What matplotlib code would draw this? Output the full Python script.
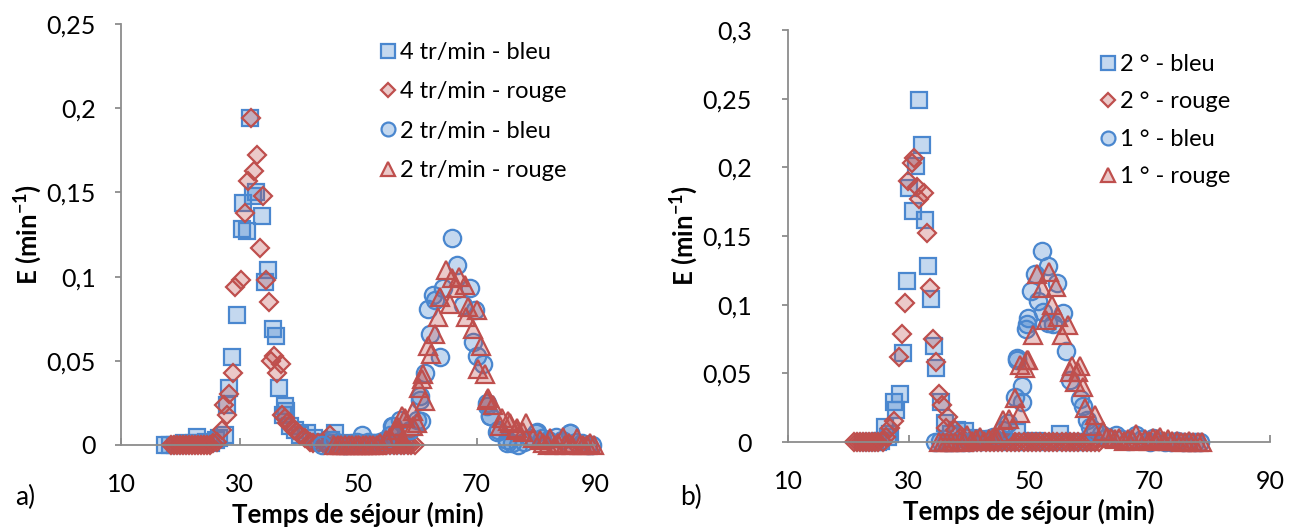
import matplotlib
matplotlib.use("Agg")
import matplotlib.pyplot as plt
from matplotlib.ticker import FuncFormatter

plt.rcParams['font.family'] = ['Lato', 'DejaVu Sans']
plt.rcParams['mathtext.fontset'] = 'custom'
plt.rcParams['mathtext.rm'] = 'Lato'
plt.rcParams['mathtext.bf'] = 'Lato:bold'

# ---------------- Panel a) ----------------
a_labels = ["4 tr/min - bleu", "4 tr/min - rouge", "2 tr/min - bleu", "2 tr/min - rouge"]

a_sq_x = [17.5, 18.3, 19.1, 19.9, 20.7, 21.5, 22.3, 22.8, 23.6, 24.4, 25.2, 26.0, 26.6, 27.5, 27.9, 28.2,
          28.7, 29.5, 30.4, 30.6, 31.2, 31.8, 32.3, 32.8, 33.8, 34.3, 34.8, 35.6, 36.1, 36.6, 37.3, 37.6,
          37.9, 38.5, 39.3, 40.2, 41.4, 42.5, 43.5, 44.5, 45.4, 46.1, 47.0, 48.0, 49.0, 50.0, 51.0, 52.0,
          53.0, 54.0, 55.0, 56.0, 57.0, 58.0]
a_sq_y = [0, 0, 0, 0, 0.001, 0, 0.001, 0.005, 0.001, 0.002, 0.001, 0.003, 0.004, 0.006, 0.024, 0.034,
          0.052, 0.077, 0.128, 0.144, 0.127, 0.194, 0.148, 0.150, 0.136, 0.097, 0.104, 0.069, 0.065, 0.034, 0.018, 0.023,
          0.020, 0.011, 0.009, 0.006, 0.007, 0.004, 0.002, 0.001, 0.003, 0.007, 0.001, 0, 0, 0, 0, 0.001,
          0, 0, 0, 0, 0, 0]

a_di_x = [18.5, 19.0, 19.5, 20.0, 20.5, 21.0, 21.5, 22.0, 22.5, 23.0, 23.5, 24.0, 24.5, 25.0, 25.5, 26.2,
          27.0, 27.4, 27.9, 28.2, 28.9, 29.3, 30.2, 30.9, 31.4, 31.9, 32.4, 32.9, 33.4, 33.9, 34.5, 35.0,
          35.4, 35.8, 36.3, 37.0, 37.2, 37.6, 38.0, 38.5, 39.2, 39.7, 40.2, 41.1, 41.9, 42.4, 43.2, 44.1,
          44.8, 45.3, 45.8, 46.4, 47.0, 47.6, 48.2, 48.8, 49.4, 50.0, 50.6, 51.2, 51.8, 52.4, 53.0, 53.6,
          54.2, 54.8, 55.4, 56.0, 56.6, 57.2, 57.8, 58.4, 59.0, 59.6]
a_di_y = [0, 0, 0, 0, 0, 0, 0, 0, 0, 0, 0, 0, 0, 0, 0.001, 0.002,
          0.009, 0.024, 0.018, 0.030, 0.043, 0.094, 0.098, 0.138, 0.157, 0.194, 0.163, 0.172, 0.117, 0.148, 0.098, 0.085,
          0.050, 0.053, 0.043, 0.048, 0.018, 0.016, 0.013, 0.012, 0.009, 0.008, 0.006, 0.004, 0.002, 0.001, 0.001, 0.001,
          0, 0.006, 0, 0, 0, 0, 0, 0, 0, 0, 0, 0, 0, 0, 0, 0,
          0, 0, 0, 0, 0, 0, 0, 0, 0, 0]

a_ci_x = [44.0, 45.8, 46.8, 47.8, 48.8, 49.8, 50.7, 51.7, 52.7, 53.7, 54.6, 55.4, 55.7, 55.9, 57.1, 58.8,
          60.0, 60.4, 60.5, 60.7, 61.3, 61.8, 62.1, 62.7, 63.0, 63.8, 64.4, 65.8, 66.7, 67.7, 68.9, 69.4,
          69.7, 70.0, 71.1, 71.7, 71.8, 72.2, 72.3, 73.4, 73.6, 75.1, 75.1, 76.0, 77.0, 78.0, 79.0, 80.1,
          80.2, 81.0, 82.0, 83.5, 84.5, 85.7, 85.8, 86.8, 87.8, 88.8, 89.5]
a_ci_y = [0, 0.003, 0.001, 0, 0.001, 0.002, 0.006, 0.002, 0.001, 0.002, 0.003, 0.006, 0.011, 0.011, 0.015, 0.009,
          0.015, 0.027, 0.029, 0.014, 0.043, 0.081, 0.066, 0.089, 0.086, 0.052, 0.093, 0.123, 0.107, 0.083, 0.093, 0.061,
          0.080, 0.053, 0.048, 0.023, 0.025, 0.017, 0.017, 0.008, 0.009, 0.003, 0.001, 0.001, 0, 0.002, 0.004, 0.007,
          0.008, 0.004, 0.003, 0.005, 0.003, 0.007, 0.007, 0.002, 0.001, 0, 0]

a_tr_x = [46.0, 46.6, 47.2, 47.8, 48.4, 49.0, 49.6, 50.2, 50.8, 51.4, 52.0, 52.6, 53.2, 53.7, 54.8, 55.4,
          56.5, 56.6, 57.3, 57.4, 57.6, 57.9, 59.3, 59.3, 59.9, 60.3, 60.8, 61.0, 61.3, 61.8, 62.4, 63.0,
          63.5, 63.8, 64.8, 65.5, 65.8, 66.6, 67.0, 68.0, 68.3, 68.6, 69.4, 70.0, 70.3, 70.8, 71.4, 71.7,
          71.9, 72.8, 73.9, 74.3, 75.3, 75.6, 76.7, 76.8, 77.8, 78.4, 79.5, 80.7, 81.3, 82.0, 82.4, 83.2,
          83.8, 84.6, 85.0, 85.6, 86.2, 86.9, 87.4, 88.0, 88.6, 89.2, 89.8]
a_tr_y = [0, 0, 0, 0, 0, 0, 0, 0, 0, 0, 0, 0, 0, 0.001, 0.003, 0.005,
          0.011, 0.009, 0.002, 0.017, 0.003, 0.016, 0.020, 0.011, 0.013, 0.034, 0.039, 0.042, 0.026, 0.059, 0.054, 0.066,
          0.076, 0.088, 0.104, 0.084, 0.099, 0.093, 0.100, 0.095, 0.076, 0.082, 0.069, 0.080, 0.045, 0.059, 0.042, 0.027,
          0.028, 0.024, 0.011, 0.016, 0.014, 0.013, 0.009, 0.010, 0.008, 0.013, 0.004, 0.003, 0.001, 0, 0.004, 0,
          0.001, 0.005, 0, 0.001, 0, 0.004, 0, 0, 0, 0.001, 0]

# ---------------- Panel b) ----------------
b_labels = ["2 ° - bleu", "2 ° - rouge", "1 ° - bleu", "1 ° - rouge"]

b_sq_x = [22.5, 23.0, 23.5, 24.0, 24.5, 25.0, 25.5, 26.1, 26.6, 27.0, 27.6, 28.0, 28.6, 29.1, 29.7, 30.1,
          30.7, 31.2, 31.7, 32.2, 32.7, 33.3, 33.7, 34.3, 34.6, 35.4, 36.1, 37.0, 38.0, 39.4, 40.5, 41.5,
          42.5, 43.5, 44.5, 45.5, 46.5, 47.5, 48.0, 49.0, 50.0, 51.0, 52.0, 53.0, 54.0, 55.1, 56.0, 57.0,
          58.0, 59.0, 60.0]
b_sq_y = [0, 0, 0, 0, 0, 0, 0.001, 0.011, 0.004, 0.006, 0.029, 0.023, 0.035, 0.065, 0.117, 0.185,
          0.168, 0.201, 0.249, 0.216, 0.162, 0.128, 0.104, 0.070, 0.054, 0.029, 0.014, 0.006, 0.009, 0.008, 0.003, 0.002,
          0.001, 0, 0, 0.001, 0, 0, 0.007, 0, 0, 0.001, 0, 0, 0, 0.006, 0, 0,
          0, 0, 0]

b_di_x = [21.0, 21.5, 22.0, 22.5, 23.0, 23.5, 24.0, 24.5, 25.0, 25.8, 26.3, 26.9, 27.6, 28.5, 29.0, 29.5,
          29.9, 30.5, 30.9, 31.4, 31.8, 32.5, 33.0, 33.6, 34.1, 34.6, 35.1, 35.5, 36.3, 36.6, 37.7, 38.5,
          39.3, 40.0, 40.7, 41.4, 42.1, 42.8, 43.5, 44.2, 44.9, 45.6, 46.3, 47.0, 47.7, 48.4, 49.1, 49.8,
          50.5, 51.2, 51.9, 52.6, 53.3, 54.0, 54.7, 55.4, 56.1, 56.8, 57.5, 58.2, 58.9, 59.6, 60.3, 61.0,
          61.7]
b_di_y = [0, 0, 0, 0, 0, 0, 0, 0, 0, 0, 0.004, 0.010, 0.015, 0.062, 0.079, 0.101,
          0.190, 0.203, 0.207, 0.186, 0.177, 0.181, 0.152, 0.112, 0.075, 0.058, 0.035, 0.027, 0.010, 0.018, 0.009, 0.003,
          0.001, 0, 0, 0, 0, 0, 0, 0, 0, 0, 0, 0, 0, 0, 0, 0,
          0, 0, 0, 0, 0, 0, 0, 0, 0, 0, 0, 0, 0, 0, 0, 0,
          0]

b_ci_x = [34.4, 35.3, 36.2, 37.1, 38.0, 39.0, 40.0, 41.0, 42.0, 43.0, 44.1, 45.7, 46.5, 47.7, 48.0, 48.0,
          48.8, 48.8, 49.5, 49.6, 49.9, 50.4, 51.0, 51.5, 52.1, 52.4, 53.1, 53.2, 54.0, 54.6, 55.7, 56.1,
          56.8, 58.5, 59.0, 59.6, 60.1, 61.0, 62.0, 63.0, 64.5, 65.5, 66.5, 67.8, 68.8, 70.0, 70.6, 71.5,
          72.5, 73.5, 74.5, 75.5, 76.5, 77.5, 78.4]
b_ci_y = [0, 0.001, 0, 0, 0, 0, 0, 0.001, 0.001, 0.002, 0.004, 0.009, 0.014, 0.033, 0.060, 0.061,
          0.041, 0.029, 0.082, 0.086, 0.090, 0.110, 0.122, 0.103, 0.139, 0.095, 0.128, 0.087, 0.086, 0.116, 0.094, 0.066,
          0.045, 0.031, 0.026, 0.016, 0.011, 0.007, 0.006, 0.004, 0.005, 0.002, 0.001, 0.005, 0.002, 0, 0.003, 0.001,
          0, 0, 0.001, 0, 0, 0, 0]

b_tr_x = [35.0, 35.7, 36.4, 37.1, 37.8, 38.5, 39.2, 39.7, 40.5, 41.2, 41.9, 42.6, 43.3, 44.0, 44.6, 45.2,
          45.7, 46.6, 47.7, 48.5, 48.5, 49.3, 49.7, 49.9, 50.6, 51.3, 52.1, 52.8, 53.4, 53.9, 54.5, 54.8,
          55.4, 56.4, 56.8, 57.1, 57.6, 58.2, 58.5, 59.0, 59.3, 60.4, 61.0, 62.3, 63.0, 63.6, 64.3, 65.0,
          65.7, 66.4, 67.1, 67.8, 68.5, 69.2, 69.9, 70.6, 71.3, 71.7, 72.4, 73.1, 73.8, 74.5, 75.2, 75.9,
          76.6, 77.3, 78.0, 78.7]
b_tr_y = [0, 0, 0, 0, 0, 0.001, 0, 0.005, 0.001, 0.002, 0.004, 0.001, 0.002, 0.003, 0.004, 0.006,
          0.016, 0.017, 0.032, 0.021, 0.056, 0.054, 0.060, 0.060, 0.078, 0.122, 0.112, 0.089, 0.124, 0.100, 0.113, 0.091,
          0.078, 0.085, 0.051, 0.055, 0.044, 0.051, 0.055, 0.040, 0.025, 0.012, 0.020, 0.008, 0.004, 0.003, 0.002, 0.003,
          0.001, 0.002, 0.002, 0.006, 0.001, 0.002, 0.001, 0.003, 0.002, 0.004, 0.001, 0.002, 0.001, 0.001, 0, 0,
          0.001, 0, 0, 0]

x_ticks = [10, 30, 50, 70, 90]
a_yticks = [0, 0.05, 0.1, 0.15, 0.2, 0.25]
b_yticks = [0, 0.05, 0.1, 0.15, 0.2, 0.25, 0.3]

BLUE = (0.29, 0.53, 0.81)
RED = (0.75, 0.31, 0.30)
BLUE_F = (0.29, 0.53, 0.81, 0.32)
RED_F = (0.75, 0.31, 0.30, 0.30)
AX_C = '#8c8c8c'

styles = [
    dict(marker='s', ms=12, mfc=BLUE_F, mec=BLUE),
    dict(marker='D', ms=9.5, mfc=RED_F, mec=RED),
    dict(marker='o', ms=12.5, mfc=BLUE_F, mec=BLUE),
    dict(marker='^', ms=13, mfc=RED_F, mec=RED),
]

fig = plt.figure(figsize=(12.93, 5.27), dpi=100)
W, H = 1293, 527


def make_ax(l, r, t, b):
    return fig.add_axes([l / W, (H - b) / H, (r - l) / W, (b - t) / H])


axA = make_ax(121, 595, 24, 445)
axB = make_ax(788, 1270, 30, 442)

fmt = FuncFormatter(lambda v, p: ('%g' % v).replace('.', ','))

TICK_FS = 18
LAB_FS = 18.5
LEG_FS = 17

panels = [
    (axA, [(a_sq_x, a_sq_y), (a_di_x, a_di_y), (a_ci_x, a_ci_y), (a_tr_x, a_tr_y)], a_labels, a_yticks,
     0.25, (366 / W, 1 - 30 / H), 14, 0.78),
    (axB, [(b_sq_x, b_sq_y), (b_di_x, b_di_y), (b_ci_x, b_ci_y), (b_tr_x, b_tr_y)], b_labels, b_yticks,
     0.3, (1086 / W, 1 - 42 / H), 22, 0.7),
]

for ax, series, labels, yticks, ymax, legpos, ypad, lspace in panels:
    for (xs, ys), st, lab in zip(series, styles, labels):
        ax.plot(xs, ys, linestyle='none', mew=1.6, clip_on=False, label=lab, **st)
    ax.set_xlim(10, 90)
    ax.set_ylim(0, ymax)
    ax.set_xticks(x_ticks)
    ax.set_yticks(yticks)
    ax.yaxis.set_major_formatter(fmt)
    for s in ['top', 'right']:
        ax.spines[s].set_visible(False)
    for s in ['left', 'bottom']:
        ax.spines[s].set_color(AX_C)
        ax.spines[s].set_linewidth(1.3)
    ax.tick_params(axis='x', direction='in', length=5, width=1.3, color=AX_C, pad=20, labelsize=TICK_FS)
    ax.tick_params(axis='y', direction='out', length=4, width=1.3, color=AX_C, pad=ypad, labelsize=TICK_FS)
    ax.set_xlabel('Temps de séjour (min)', fontsize=LAB_FS, fontweight='bold', labelpad=4)
    ax.set_ylabel(r'E (min$^{\mathbf{-1}}$)', fontsize=LAB_FS, fontweight='bold', labelpad=2)
    ax.legend(loc='upper left', bbox_to_anchor=legpos, bbox_transform=fig.transFigure,
              frameon=False, fontsize=LEG_FS, handletextpad=0.05, labelspacing=lspace, borderpad=0,
              handlelength=0.9, markerscale=0.8)

fig.text(15 / W, 1 - 497 / H, 'a)', fontsize=19, va='center', ha='left')
fig.text(680 / W, 1 - 497 / H, 'b)', fontsize=19, va='center', ha='left')

fig.savefig('out.png', dpi=100)
